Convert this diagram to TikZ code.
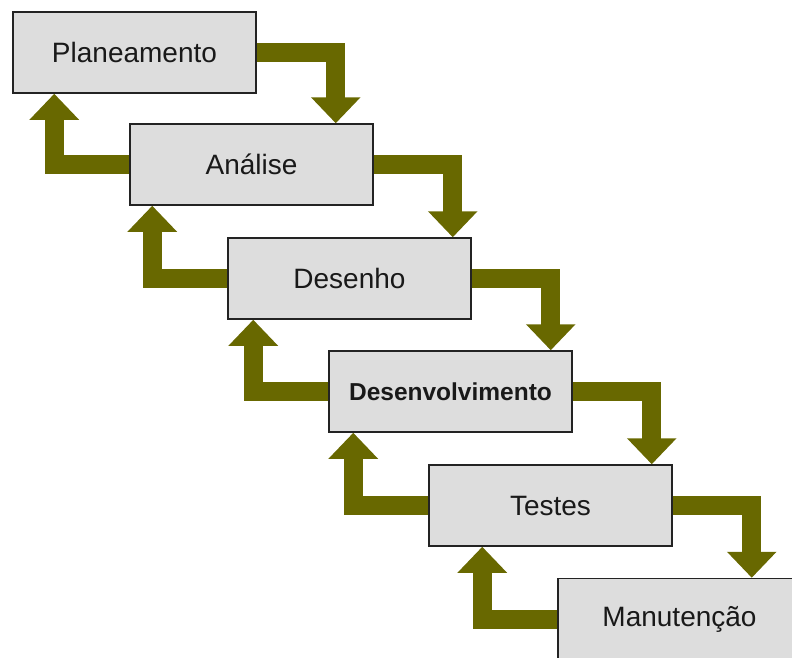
\documentclass[tikz,border=0pt]{standalone}
\usepackage{fontspec}
\setmainfont{Liberation Sans}
\usetikzlibrary{arrows.meta}

\definecolor{flowolive}{RGB}{104,104,0}
\definecolor{boxgray}{RGB}{221,221,221}
\definecolor{boxedge}{RGB}{35,35,35}
\definecolor{textdark}{RGB}{25,25,25}

\begin{document}
\begin{tikzpicture}[x=1pt, y=-1pt,
  phase/.style={draw=boxedge, line width=1.5pt, fill=boxgray,
    minimum width=243pt, minimum height=81pt, inner sep=0pt,
    text=textdark, font=\fontsize{28}{30}\selectfont},
  phasebold/.style={phase, font=\bfseries\fontsize{24.5}{27}\selectfont},
  flow/.style={draw=flowolive, line width=19pt, line join=miter, line cap=butt,
    -{Triangle[width=48pt, length=26pt]}}
]
\useasboundingbox (0,0) rectangle (792,657);
\clip (0,0) rectangle (792,657);

% phases of the cascade
\node[phase]     (p1) at (134.5, 52.5)  {Planeamento};
\node[phase]     (p2) at (251.5, 164.5) {Análise};
\node[phase]     (p3) at (349.5, 278.5) {Desenho};
\node[phasebold] (p4) at (450.5, 391.5) {Desenvolvimento};
\node[phase]     (p5) at (550.5, 505.5) {Testes};
\node[phase]     (p6) at (679.5, 619)   {Manutenção};

% bend points of the forward (right) and backward (left) arrows
\foreach \up/\dn in {p1/p2, p2/p3, p3/p4, p4/p5, p5/p6} {
  \coordinate (f-\up) at ([xshift=79pt]\up.east);
  \coordinate (b-\dn) at ([xshift=-75pt]\dn.west);
  \draw[flow] (\up.east) -| (f-\up |- \dn.north);
  \draw[flow] (\dn.west) -| (b-\dn |- \up.south);
}
\end{tikzpicture}
\end{document}
